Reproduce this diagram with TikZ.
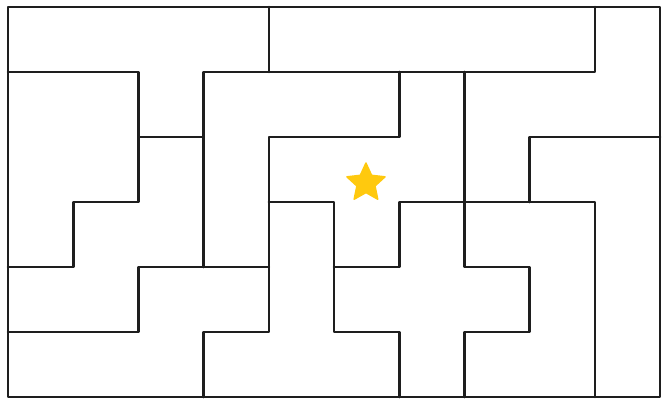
\documentclass[tikz,border=0pt]{standalone}
\usetikzlibrary{shapes.geometric}
\definecolor{cwall}{HTML}{1E1E1E}
\definecolor{cgold}{HTML}{FFC90E}
\tikzset{
  every picture/.style={line width=2.6bp},
  wall/.style={draw=cwall, line cap=round, line join=round},
  goal/.style={star, star points=5, star point ratio=2.1, fill=cgold, draw=cgold,
    line width=1.5bp, line join=round, minimum size=40bp, inner sep=0pt},
}

\begin{document}
\begin{tikzpicture}[x=65.2bp, y=-65bp]
  \useasboundingbox (-0.1227,-0.1077) rectangle (10.138,6.2308);
  % frame
  \draw[wall] (0,0) rectangle (10,6);
  % left side
  \draw[wall] (0,1) -- (2,1) -- (2,3) -- (1,3) -- (1,4) -- (0,4);
  \draw[wall] (2,2) -- (3,2);
  \draw[wall] (0,5) -- (2,5) -- (2,4) -- (4,4);
  % top bar
  \draw[wall] (4,0) -- (4,1);
  \draw[wall] (3,4) -- (3,1) -- (9,1) -- (9,0);
  % middle
  \draw[wall] (6,1) -- (6,2) -- (4,2) -- (4,5) -- (3,5) -- (3,6);
  \draw[wall] (4,3) -- (5,3) -- (5,5) -- (6,5) -- (6,6);
  \draw[wall] (5,4) -- (6,4) -- (6,3) -- (9,3) -- (9,6);
  % right side
  \draw[wall] (7,1) -- (7,4) -- (8,4) -- (8,5) -- (7,5) -- (7,6);
  \draw[wall] (8,3) -- (8,2) -- (10,2);
  % goal
  \node[goal] (goal) at (5.49,2.708) {};
\end{tikzpicture}
\end{document}
